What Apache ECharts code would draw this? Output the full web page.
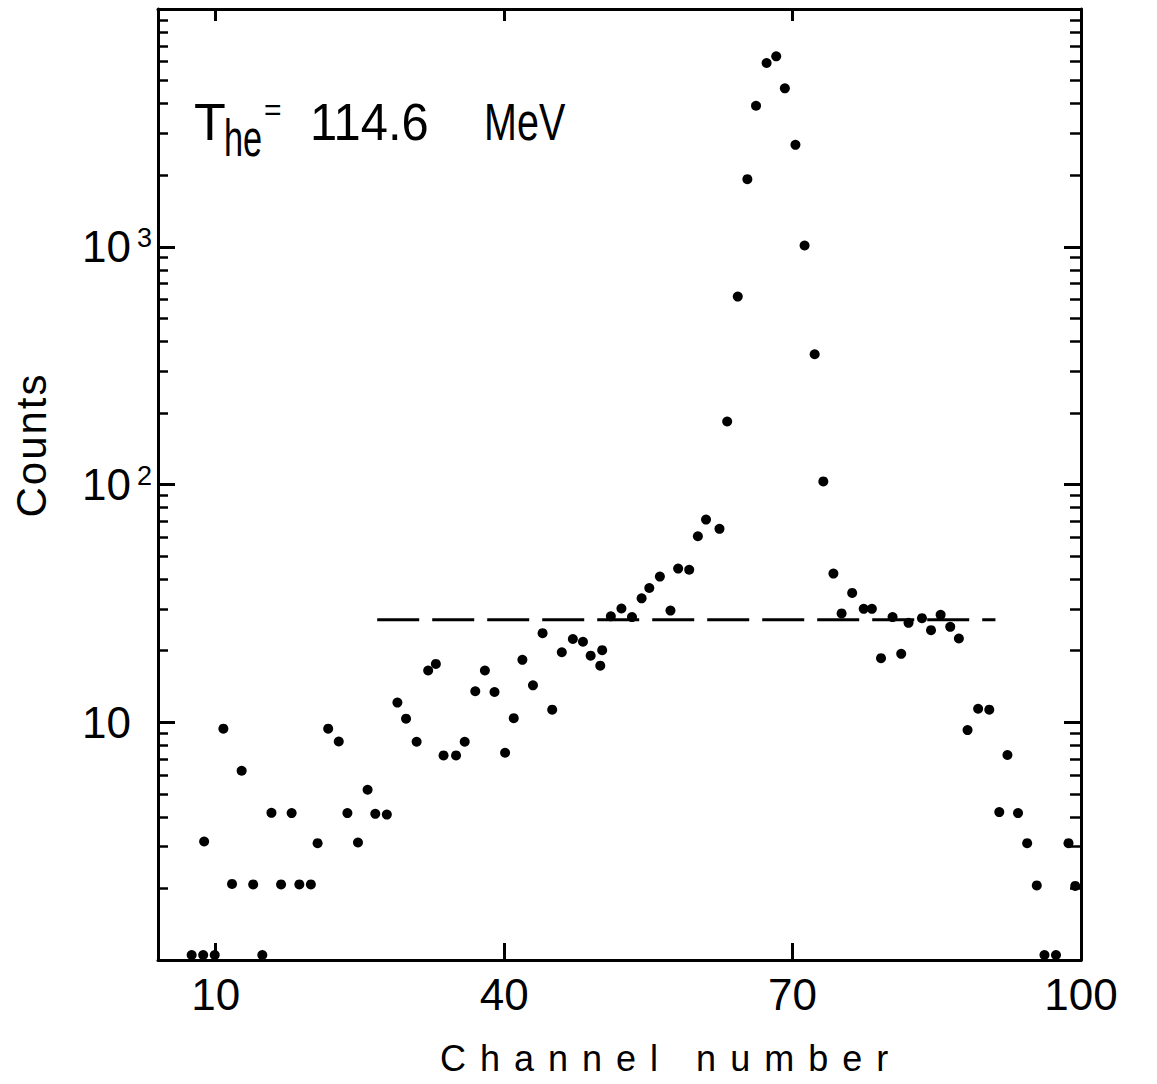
<!DOCTYPE html>
<html>
<head>
<meta charset="utf-8">
<script src="https://cdn.jsdelivr.net/npm/echarts@6/dist/echarts.min.js"></script>
<style>
html,body{margin:0;padding:0;background:#ffffff;}
#chart{width:1157px;height:1084px;}
</style>
</head>
<body>
<div id="chart"></div>
<script>
// ---- data ----
const channels = [7.5, 8.7, 8.8, 9.9, 10.8, 11.7, 12.7, 13.9, 14.85, 15.8, 16.8, 17.9, 18.7, 19.9, 20.6,
  21.7, 22.8, 23.7, 24.8, 25.8, 26.6, 27.8, 28.9, 29.8, 30.9, 32.1, 32.9, 33.7, 35.0, 35.9,
  37.0, 38.0, 39.0, 40.1, 41.0, 41.9, 43.0, 44.0, 45.0, 46.0, 47.15, 48.2, 49.0, 50.0, 50.2,
  51.1, 52.2, 53.3, 54.3, 55.1, 56.2, 57.3, 58.1, 59.25, 60.15, 61.0, 62.4, 63.2, 64.3, 65.3,
  66.2, 67.3, 68.3, 69.2, 70.3, 71.25, 72.3, 73.2, 74.25, 75.1, 76.2, 77.4, 78.25, 79.2, 80.4,
  81.3, 82.06, 83.46, 84.4, 85.4, 86.4, 87.3, 88.2, 89.3, 90.46, 91.5, 92.35, 93.45, 94.4, 95.4,
  96.2, 97.4, 98.7, 99.4];
const counts = [1.05, 1.05, 3.15, 1.05, 9.4, 2.09, 6.25, 2.08, 1.05, 4.16, 2.08, 4.15, 2.08, 2.08, 3.1,
  9.4, 8.3, 4.15, 3.12, 5.2, 4.12, 4.09, 12.1, 10.35, 8.28, 16.5, 17.6, 7.25, 7.25, 8.28,
  13.5, 16.5, 13.4, 7.44, 10.4, 18.3, 14.3, 23.7, 11.3, 19.7, 22.4, 21.8, 19.05, 17.3, 20.1,
  27.9, 30.1, 27.7, 33.2, 36.7, 41.0, 29.5, 44.3, 43.8, 60.6, 71.2, 65.1, 184, 617, 1924,
  3917, 5925, 6322, 4636, 2684, 1012, 353, 103, 42.2, 28.7, 35.0, 30.0, 30.0, 18.6, 27.7,
  19.4, 26.2, 27.4, 24.4, 28.3, 25.2, 22.5, 9.27, 11.4, 11.3, 4.19, 7.28, 4.15, 3.1, 2.06,
  1.05, 1.05, 3.1, 2.05];
const backgroundChannels = [26.8, 91.1];
const backgroundLevel = [27, 27];
const xRange = [4, 100];
const yRange = [1, 10000];
const xTickValues = [10, 40, 70, 100];
const xTopTickValues = [10, 40, 70];
const yMajorValues = [10, 100, 1000];
const yExponents = ['', '2', '3'];
const yMinorValues = [2,3,4,5,6,7,8,9, 20,30,40,50,60,70,80,90, 200,300,400,500,600,700,800,900, 2000,3000,4000,5000,6000,7000,8000,9000];
const xAxisTitle = 'Channel number';
const yAxisTitle = 'Counts';
const annotationParts = ['T', 'he', '=', '114.6', 'MeV'];

const FONT = '"Liberation Sans", "DejaVu Sans", sans-serif';
const BLACK = '#000000';

const chart = echarts.init(document.getElementById('chart'), null, {renderer: 'svg'});

function baseX(pos, ticks, len, showLabel) {
  return {
    type: 'value', position: pos, min: xRange[0], max: xRange[1],
    axisLine: {show: true, onZero: false, lineStyle: {color: BLACK, width: 3}},
    axisTick: {show: true, inside: true, length: len, customValues: ticks, lineStyle: {color: BLACK, width: 3}},
    axisLabel: {show: showLabel, customValues: xTickValues, margin: 12, fontSize: 44, fontFamily: FONT, color: BLACK},
    splitLine: {show: false}
  };
}
function baseY(pos, ticks, len, showLine, showLabel, width) {
  return {
    type: 'log', logBase: 10, position: pos, min: yRange[0], max: yRange[1],
    axisLine: {show: showLine, onZero: false, lineStyle: {color: BLACK, width: 3}},
    axisTick: {show: true, inside: true, length: len, customValues: ticks, lineStyle: {color: BLACK, width: width}},
    axisLabel: {
      show: showLabel, customValues: yMajorValues, align: 'left', margin: 76,
      formatter: function (v) {
        const i = yMajorValues.indexOf(Math.round(v));
        const e = i >= 0 ? yExponents[i] : '';
        return e ? '{a|10}{s|' + e + '}' : '{a|10}';
      },
      rich: {
        a: {fontSize: 44, fontFamily: FONT, color: BLACK, lineHeight: 44},
        s: {fontSize: 27, fontFamily: FONT, color: BLACK, lineHeight: 27, verticalAlign: 'top', padding: [0, 0, 0, 6]}
      }
    },
    splitLine: {show: false},
    minorTick: {show: false}
  };
}

function titleText(x, y, text, size, scaleX, align) {
  return {
    type: 'text', x: x, y: y, scaleX: scaleX, originX: 0, originY: 0,
    style: {text: text, fontSize: size, fontFamily: FONT, fill: BLACK, align: align || 'left', verticalAlign: 'middle'}
  };
}

const option = {
  backgroundColor: '#ffffff',
  animation: false,
  grid: {left: 158, right: 76, top: 9, bottom: 124, containLabel: false, outerBoundsMode: 'none'},
  xAxis: [
    baseX('bottom', xTickValues, 17, true),
    baseX('top', xTopTickValues, 12, false)
  ],
  yAxis: [
    baseY('left', yMajorValues, 17, true, true, 3),
    baseY('left', yMinorValues, 10, false, false, 2.5),
    baseY('right', yMajorValues, 17, true, false, 3),
    baseY('right', yMinorValues, 11, false, false, 2.5)
  ],
  series: [
    {
      type: 'line', xAxisIndex: 0, yAxisIndex: 0,
      data: backgroundChannels.map((c, i) => [c, backgroundLevel[i]]),
      symbol: 'none', silent: true,
      lineStyle: {color: BLACK, width: 3, type: [42, 13], opacity: 1},
      z: 1
    },
    {
      type: 'scatter', xAxisIndex: 0, yAxisIndex: 0,
      data: channels.map((c, i) => [c, counts[i]]),
      symbol: 'circle', symbolSize: 10,
      itemStyle: {color: BLACK, opacity: 1},
      clip: true, z: 3
    }
  ],
  graphic: [
    titleText(194, 122, annotationParts[0], 52, 1),
    titleText(224, 138, annotationParts[1], 52, 0.66),
    titleText(264, 109, annotationParts[2], 30, 1),
    titleText(310, 122, annotationParts[3], 52, 0.94),
    titleText(484, 122, annotationParts[4], 52, 0.76),
    {type: 'text', x: 440, y: 1058, style: {text: xAxisTitle, fontSize: 36, fontFamily: FONT, fill: BLACK, align: 'left', verticalAlign: 'middle'}},
    {type: 'text', x: 31, y: 445, rotation: Math.PI / 2, style: {text: yAxisTitle, fontSize: 42, fontFamily: FONT, fill: BLACK, align: 'center', verticalAlign: 'middle'}}
  ]
};

chart.setOption(option);

function spaceLetters() {
  document.querySelectorAll('#chart svg text').forEach(function (t) {
    if (t.textContent === xAxisTitle) t.setAttribute('letter-spacing', '14px');
    if (t.textContent === yAxisTitle) t.setAttribute('letter-spacing', '2px');
  });
}
spaceLetters();
chart.on('finished', spaceLetters);
</script>
</body>
</html>
